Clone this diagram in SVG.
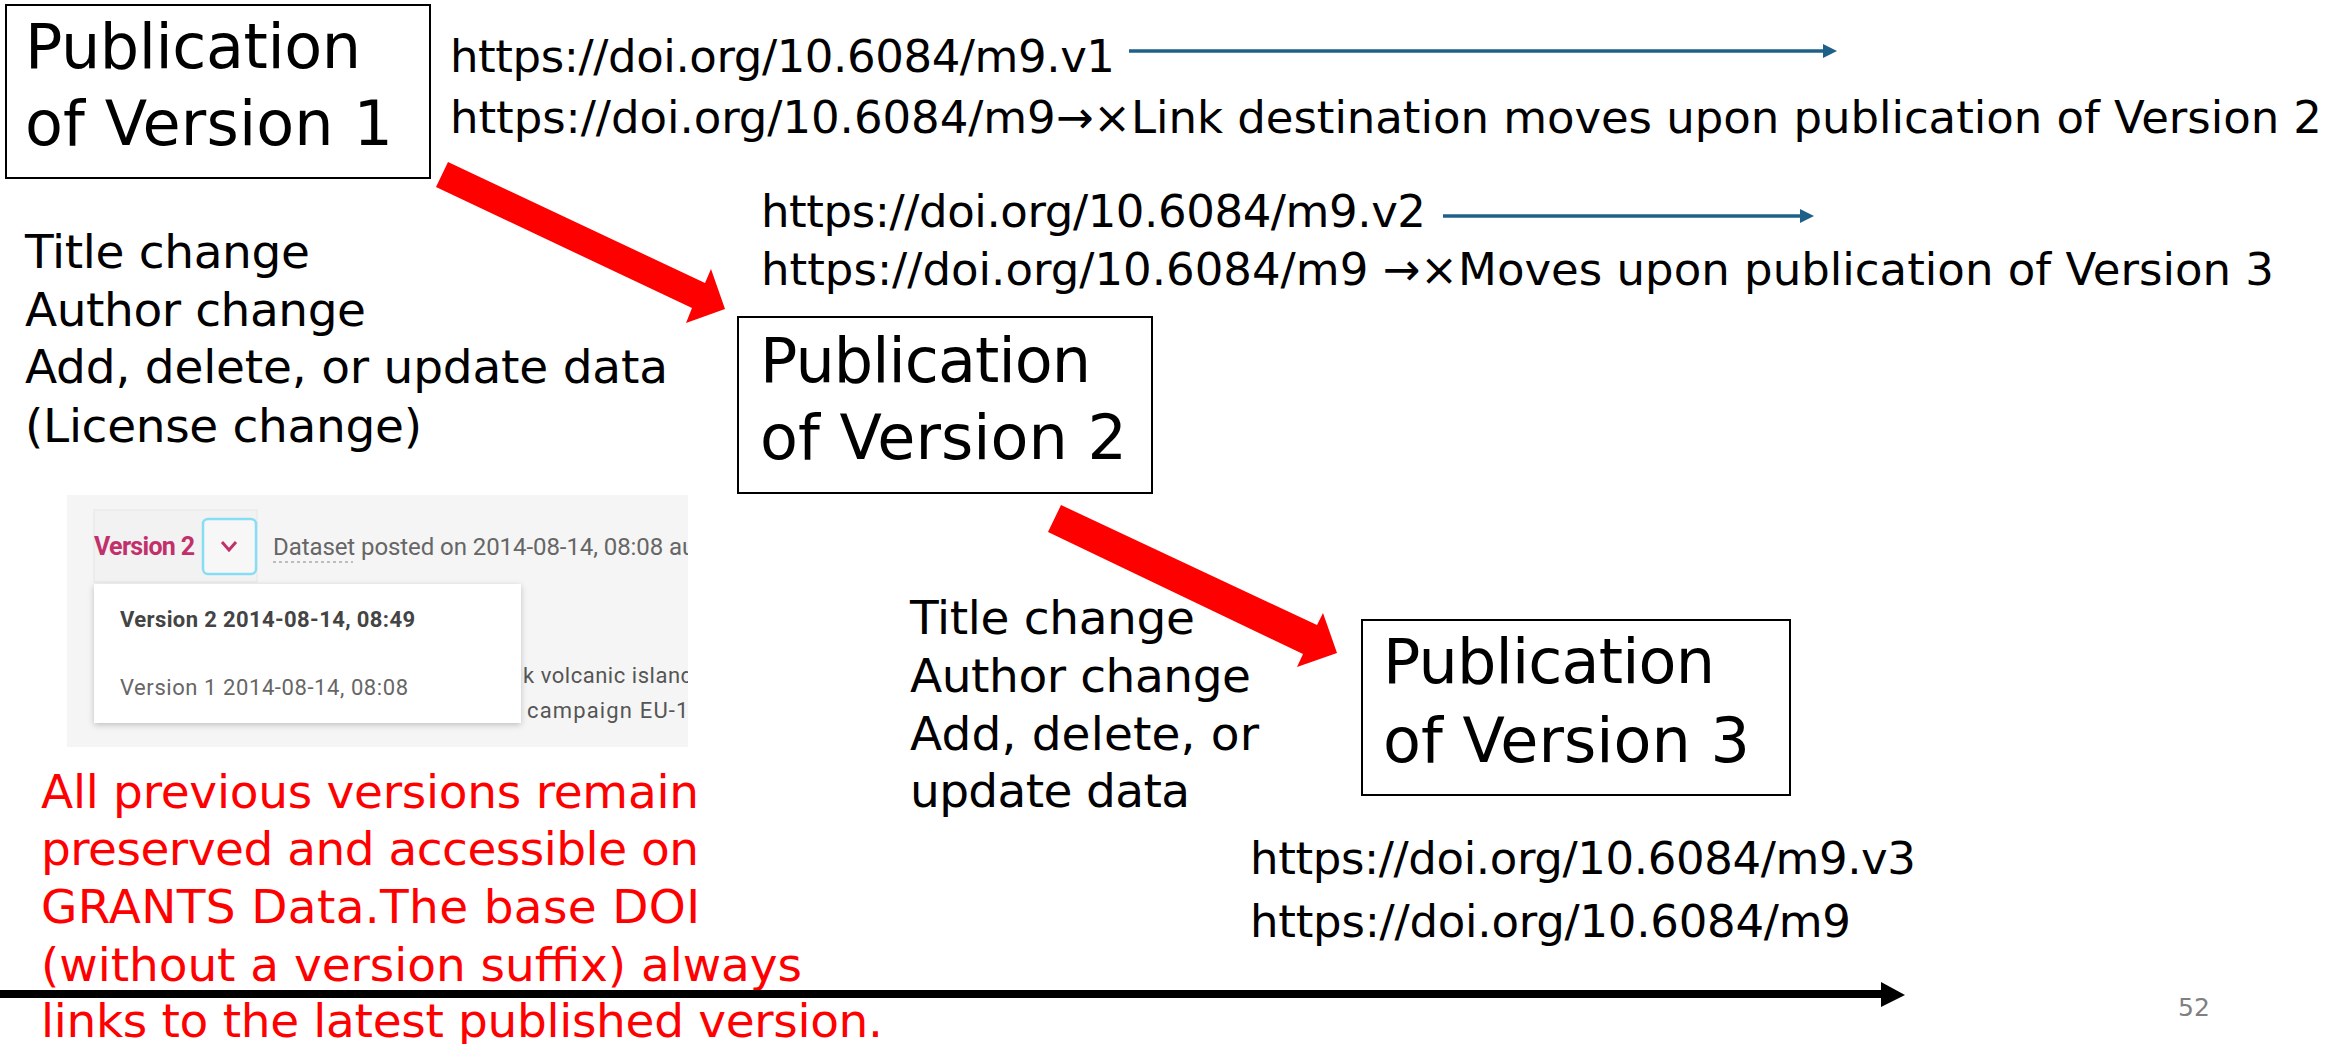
<svg xmlns="http://www.w3.org/2000/svg" width="2351" height="1044" viewBox="0 0 2351 1044">
  <style>
    .t { font-family: "DejaVu Sans", "Noto Sans", sans-serif; fill: #000; }
    .box { fill: #fff; stroke: #000; stroke-width: 2; }
    .title { font-size: 62px; }
    .url { font-size: 45px; }
    .txt { font-size: 47px; }
    .red { fill: #ff0000; }
    .blue { stroke: #1f6088; stroke-width: 3.5; fill: none; }
    .redarrow { fill: #ff0000; }
    .ui { font-family: Roboto, "Liberation Sans", sans-serif; }
  </style>
  <defs>
    <marker id="blueHead" markerUnits="userSpaceOnUse" viewBox="0 0 14 14" markerWidth="14" markerHeight="14" refX="2" refY="7" orient="auto">
      <path d="M0,0 L14,7 L0,14 z" fill="#1f6088"/>
    </marker>
    <clipPath id="panelClip">
      <rect x="67" y="495" width="621" height="252"/>
    </clipPath>
    <filter id="shadow" x="-10%" y="-10%" width="120%" height="130%">
      <feDropShadow dx="0" dy="2" stdDeviation="3" flood-color="#000" flood-opacity="0.22"/>
    </filter>
  </defs>
  <rect x="0" y="0" width="2351" height="1044" fill="#fff"/>

  <!-- Nodes -->
  <g id="node-v1">
    <rect class="box" x="6" y="5" width="424" height="173"/>
    <text class="t title" x="25" y="68" textLength="336">Publication</text>
    <text class="t title" x="25" y="145" textLength="368">of Version 1</text>
  </g>
  <g id="node-v2">
    <rect class="box" x="738" y="317" width="414" height="176"/>
    <text class="t title" x="760" y="382" textLength="331">Publication</text>
    <text class="t title" x="760" y="459" textLength="367">of Version 2</text>
  </g>
  <g id="node-v3">
    <rect class="box" x="1362" y="620" width="428" height="175"/>
    <text class="t title" x="1383" y="683" textLength="332">Publication</text>
    <text class="t title" x="1383" y="762" textLength="367">of Version 3</text>
  </g>

  <!-- URL texts -->
  <g id="urls-v1">
    <text class="t url" x="450" y="72" textLength="665">https://doi.org/10.6084/m9.v1</text>
    <text class="t url" x="450" y="133" textLength="1872">https://doi.org/10.6084/m9→×Link destination moves upon publication of Version 2</text>
  </g>
  <g id="urls-v2">
    <text class="t url" x="761" y="227" textLength="665">https://doi.org/10.6084/m9.v2</text>
    <text class="t url" x="761" y="285" textLength="1513">https://doi.org/10.6084/m9 →×Moves upon publication of Version 3</text>
  </g>
  <g id="urls-v3">
    <text class="t url" x="1250" y="874" textLength="666">https://doi.org/10.6084/m9.v3</text>
    <text class="t url" x="1250" y="937" textLength="601">https://doi.org/10.6084/m9</text>
  </g>

  <!-- Change lists -->
  <g id="changes-1">
    <text class="t txt" x="25" y="268" textLength="285">Title change</text>
    <text class="t txt" x="25" y="326" textLength="341">Author change</text>
    <text class="t txt" x="25" y="383" textLength="643">Add, delete, or update data</text>
    <text class="t txt" x="25" y="442" textLength="397">(License change)</text>
  </g>
  <g id="changes-2">
    <text class="t txt" x="910" y="634" textLength="285">Title change</text>
    <text class="t txt" x="910" y="692" textLength="341">Author change</text>
    <text class="t txt" x="910" y="750" textLength="349">Add, delete, or</text>
    <text class="t txt" x="910" y="807" textLength="280">update data</text>
  </g>

  <!-- Screenshot panel -->
  <g id="screenshot">
    <rect x="67" y="495" width="621" height="252" fill="#f5f5f5"/>
    <g clip-path="url(#panelClip)">
      <rect x="94" y="510" width="163" height="72" fill="#f2f2f2" stroke="#e6e6e6" stroke-width="1"/>
      <text class="ui" x="94" y="555" font-size="25" font-weight="bold" fill="#c2306a" textLength="101">Version 2</text>
      <rect x="203" y="519" width="53" height="55" rx="5" fill="#f7f7f7" stroke="#86def5" stroke-width="2.5"/>
      <path d="M222,542 L229,550 L236,542" fill="none" stroke="#c2306a" stroke-width="3"/>
      <text class="ui" x="273" y="555" font-size="24" fill="#666" textLength="430">Dataset posted on 2014-08-14, 08:08 aut</text>
      <line x1="273" y1="562" x2="353" y2="562" stroke="#aaa" stroke-width="1.5" stroke-dasharray="3,3"/>
      <text class="ui" x="523" y="683" font-size="22" fill="#555" textLength="170">k volcanic island</text>
      <text class="ui" x="527" y="718" font-size="22" fill="#555" textLength="175">campaign EU-12</text>
      <rect x="94" y="584" width="427" height="139" fill="#fff" filter="url(#shadow)"/>
      <text class="ui" x="120" y="627" font-size="22" font-weight="bold" fill="#444" textLength="295">Version 2 2014-08-14, 08:49</text>
      <text class="ui" x="120" y="695" font-size="22" fill="#666" textLength="288">Version 1 2014-08-14, 08:08</text>
    </g>
  </g>

  <!-- Note -->
  <g id="note">
    <text class="t txt red" x="41" y="808" textLength="658">All previous versions remain</text>
    <text class="t txt red" x="41" y="865" textLength="658">preserved and accessible on</text>
    <text class="t txt red" x="41" y="923" textLength="659">GRANTS Data.The base DOI</text>
    <text class="t txt red" x="41" y="981" textLength="761">(without a version suffix) always</text>
    <text class="t txt red" x="41" y="1037" textLength="842">links to the latest published version.</text>
  </g>

  <!-- Connectors -->
  <g id="connectors">
    <polygon class="redarrow" points="448,162 705,283 711,269 725,309 686,323 692,308 436,187"/>
    <polygon class="redarrow" points="1061,505 1317,625 1323,613 1337,653 1297,667 1303,654 1048,532"/>
    <line class="blue" x1="1129" y1="51" x2="1825" y2="51" marker-end="url(#blueHead)"/>
    <line class="blue" x1="1443" y1="216" x2="1802" y2="216" marker-end="url(#blueHead)"/>
    <line x1="0" y1="994" x2="1883" y2="994" stroke="#000" stroke-width="8"/>
    <polygon points="1881,982 1905,995 1881,1007" fill="#000"/>
  </g>

  <text id="page-number" x="2178" y="1016" font-family="'DejaVu Sans', sans-serif" font-size="25" fill="#808080">52</text>
</svg>
